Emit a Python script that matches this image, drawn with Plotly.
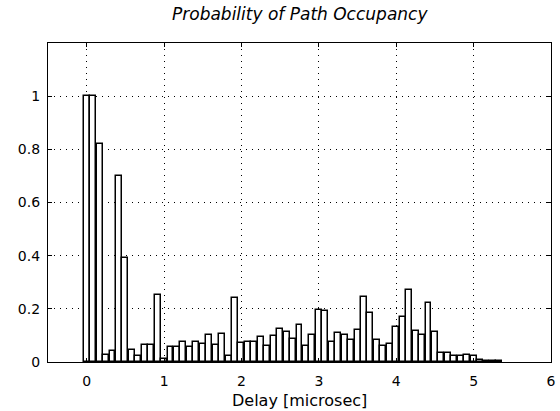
import plotly.graph_objects as go

# Bin spacing: 1/12 microsecond
bin_index = list(range(65))
occupancy = [
    1.0, 1.0, 0.82, 0.028, 0.04, 0.70, 0.39, 0.046, 0.024, 0.065,
    0.065, 0.253, 0.012, 0.055, 0.055, 0.075, 0.055, 0.075, 0.068, 0.102,
    0.064, 0.104, 0.024, 0.239, 0.072, 0.074, 0.074, 0.094, 0.061, 0.099,
    0.124, 0.114, 0.087, 0.138, 0.061, 0.10, 0.197, 0.19, 0.077, 0.109,
    0.10, 0.081, 0.121, 0.244, 0.184, 0.084, 0.061, 0.067, 0.132, 0.169,
    0.271, 0.117, 0.10, 0.221, 0.112, 0.033, 0.032, 0.021, 0.021, 0.025,
    0.021, 0.006, 0.005, 0.004, 0.003,
]
bin_width = 1.0 / 12.0
delay = [k * bin_width for k in bin_index]

x_ticks = [0, 1, 2, 3, 4, 5, 6]
y_ticks = [0, 0.2, 0.4, 0.6, 0.8, 1.0]
y_tick_labels = ["0", "0.2", "0.4", "0.6", "0.8", "1"]

title_text = "Probability of Path Occupancy"
xlabel_text = "Delay [microsec]"

FONT = "DejaVu Sans"

fig = go.Figure()
fig.add_trace(go.Bar(
    x=delay,
    y=occupancy,
    width=bin_width * 0.92,
    marker=dict(color="white", line=dict(color="black", width=1.5)),
    showlegend=False,
))

axis_common = dict(
    showline=True,
    linecolor="black",
    linewidth=1.3,
    mirror="ticks",
    ticks="inside",
    ticklen=4,
    tickcolor="black",
    showgrid=True,
    gridcolor="black",
    gridwidth=1,
    griddash="1px,5px",
    zeroline=False,
    ticklabeloverflow="allow",
    tickfont=dict(family=FONT, size=14, color="black"),
)

fig.update_xaxes(
    range=[-0.5, 6.0001],
    tickvals=x_ticks,
    ticktext=[str(v) for v in x_ticks],
    ticklabelstandoff=6,
    **axis_common,
)
fig.update_yaxes(
    range=[0, 1.2],
    tickvals=y_ticks,
    ticktext=y_tick_labels,
    ticklabelstandoff=4,
    **axis_common,
)

fig.update_layout(
    width=560,
    height=411,
    margin=dict(l=48, r=4, t=43, b=49),
    paper_bgcolor="white",
    plot_bgcolor="white",
    bargap=0,
    font=dict(family=FONT, color="black"),
    annotations=[
        dict(text="<i>" + title_text + "</i>", xref="paper", yref="paper",
             x=0.5, y=1, yanchor="bottom", yshift=17, showarrow=False,
             font=dict(family=FONT, size=17, color="black")),
        dict(text=xlabel_text, xref="paper", yref="paper",
             x=0.5, y=0, yanchor="top", yshift=-27, showarrow=False,
             font=dict(family=FONT, size=16, color="black")),
    ],
)

fig.write_html("out.html")
